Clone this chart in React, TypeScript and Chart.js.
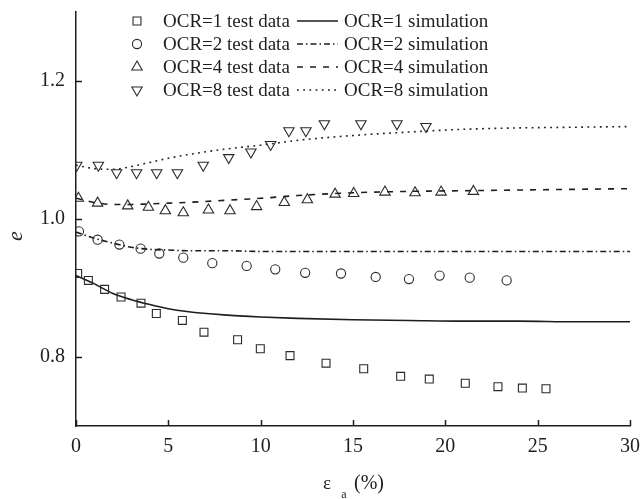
import React, { useEffect, useRef } from "react";
import { Chart, registerables } from "chart.js";
import { drawPoint } from "chart.js/helpers";

Chart.register(...registerables);

// ---- data ----
const ocr1TestX = [0.09, 0.67, 1.55, 2.44, 3.52, 4.35, 5.76, 6.93, 8.75, 9.98, 11.59, 13.54, 15.58, 17.58, 19.13, 21.08, 22.85, 24.17, 25.45];
const ocr1TestY = [0.921, 0.911, 0.898, 0.887, 0.878, 0.863, 0.853, 0.836, 0.825, 0.812, 0.802, 0.791, 0.783, 0.772, 0.768, 0.762, 0.757, 0.755, 0.754];

const ocr2TestX = [0.16, 1.17, 2.35, 3.5, 4.51, 5.81, 7.38, 9.24, 10.79, 12.41, 14.35, 16.23, 18.03, 19.69, 21.32, 23.32];
const ocr2TestY = [0.982, 0.97, 0.963, 0.957, 0.95, 0.944, 0.936, 0.932, 0.927, 0.922, 0.921, 0.916, 0.913, 0.918, 0.915, 0.911];

const ocr4TestX = [0.13, 1.17, 2.8, 3.92, 4.84, 5.81, 7.17, 8.34, 9.78, 11.28, 12.53, 14.03, 15.04, 16.73, 18.36, 19.77, 21.52];
const ocr4TestY = [1.03, 1.023, 1.019, 1.017, 1.012, 1.009, 1.013, 1.012, 1.018, 1.024, 1.028, 1.036, 1.037, 1.039, 1.038, 1.039, 1.04];

const ocr8TestX = [0.04, 1.21, 2.2, 3.28, 4.37, 5.49, 6.89, 8.27, 9.47, 10.54, 11.53, 12.45, 13.45, 15.43, 17.38, 18.95];
const ocr8TestY = [1.078, 1.078, 1.067, 1.067, 1.067, 1.067, 1.078, 1.089, 1.097, 1.108, 1.128, 1.128, 1.138, 1.138, 1.138, 1.134];

const simX = [0, 1, 2, 3, 4, 5, 6, 8, 10, 12, 15, 18, 21, 24, 27, 30];
const ocr1Sim = [0.918, 0.906, 0.892, 0.883, 0.876, 0.870, 0.866, 0.861, 0.858, 0.856, 0.854, 0.853, 0.852, 0.852, 0.851, 0.851];
const ocr2Sim = [0.981, 0.972, 0.965, 0.959, 0.956, 0.955, 0.954, 0.954, 0.953, 0.953, 0.953, 0.953, 0.953, 0.953, 0.953, 0.953];
const ocr4Sim = [1.030, 1.024, 1.021, 1.021, 1.022, 1.023, 1.024, 1.027, 1.030, 1.034, 1.038, 1.040, 1.041, 1.042, 1.043, 1.044];
const ocr8Sim = [1.078, 1.073, 1.072, 1.076, 1.082, 1.088, 1.093, 1.101, 1.107, 1.114, 1.121, 1.126, 1.130, 1.132, 1.133, 1.134];

const xTicks = [0, 5, 10, 15, 20, 25, 30];
const yTicks = [0.8, 1.0, 1.2];

const testLabels = ["OCR=1 test data", "OCR=2 test data", "OCR=4 test data", "OCR=8 test data"];
const simLabels = ["OCR=1 simulation", "OCR=2 simulation", "OCR=4 simulation", "OCR=8 simulation"];
const yTitle = "e";
const xTitleMain = "ε";
const xTitleSub = "a";
const xTitleUnit = "(%)";

const pts = (xs: number[], ys: number[]) => xs.map((x, i) => ({ x, y: ys[i] }));

const INK = "#1e1e1e";
const SERIF = "'Liberation Serif', 'Times New Roman', serif";

export default function App() {
  const ref = useRef<HTMLCanvasElement | null>(null);

  useEffect(() => {
    if (!ref.current) return;

    const testStyle = (style: string, radius: number, rotation = 0) => ({
      showLine: false,
      pointStyle: style,
      pointRadius: radius,
      pointRotation: rotation,
      pointBorderColor: "#2a2a2a",
      pointBackgroundColor: "rgba(0,0,0,0)",
      pointBorderWidth: 1.1,
      borderColor: "#2a2a2a",
    });
    const simStyle = (dash: number[]) => ({
      showLine: true,
      pointRadius: 0,
      borderColor: INK,
      borderWidth: 1.6,
      borderDash: dash,
      cubicInterpolationMode: "monotone" as const,
      fill: false,
    });

    const datasets: any[] = [
      { label: testLabels[0], data: pts(ocr1TestX, ocr1TestY), ...testStyle("rect", 5.6) },
      { label: testLabels[1], data: pts(ocr2TestX, ocr2TestY), ...testStyle("circle", 4.6) },
      { label: testLabels[2], data: pts(ocr4TestX, ocr4TestY), ...testStyle("triangle", 6) },
      { label: testLabels[3], data: pts(ocr8TestX, ocr8TestY), ...testStyle("triangle", 6, 180) },
      { label: simLabels[0], data: pts(simX, ocr1Sim), ...simStyle([]) },
      { label: simLabels[1], data: pts(simX, ocr2Sim), ...simStyle([6, 3, 1.5, 3]) },
      { label: simLabels[2], data: pts(simX, ocr4Sim), ...simStyle([6, 7]) },
      { label: simLabels[3], data: pts(simX, ocr8Sim), ...simStyle([1.8, 4.4]) },
    ];

    const decor = {
      id: "decor",
      afterDraw(chart: any) {
        const { ctx, chartArea } = chart;
        const xs = chart.scales.x;
        const ys = chart.scales.y;
        ctx.save();
        // inward tick marks
        ctx.strokeStyle = INK;
        ctx.lineWidth = 1.5;
        ctx.setLineDash([]);
        xs.ticks.forEach((t: any) => {
          const px = Math.round(xs.getPixelForValue(t.value)) + 0.5;
          ctx.beginPath();
          ctx.moveTo(px, chartArea.bottom);
          ctx.lineTo(px, chartArea.bottom - 6);
          ctx.stroke();
        });
        ys.ticks.forEach((t: any) => {
          const py = Math.round(ys.getPixelForValue(t.value)) + 0.5;
          ctx.beginPath();
          ctx.moveTo(chartArea.left, py);
          ctx.lineTo(chartArea.left + 6, py);
          ctx.stroke();
        });

        // legend
        const rowY0 = 21;
        const rowH = 23;
        const markerX = 137;
        const textX = 163;
        const lineX0 = 297;
        const lineX1 = 338;
        const simTextX = 344;
        ctx.font = `19px ${SERIF}`;
        ctx.fillStyle = INK;
        ctx.textBaseline = "middle";
        ctx.textAlign = "left";
        for (let i = 0; i < 4; i++) {
          const y = rowY0 + i * rowH;
          const td = chart.data.datasets[i];
          ctx.save();
          ctx.strokeStyle = td.pointBorderColor;
          ctx.fillStyle = "rgba(0,0,0,0)";
          ctx.lineWidth = td.pointBorderWidth;
          drawPoint(ctx, { pointStyle: td.pointStyle, radius: td.pointRadius, rotation: td.pointRotation, borderWidth: td.pointBorderWidth }, markerX, y);
          ctx.restore();
          ctx.fillStyle = INK;
          ctx.fillText(td.label, textX, y + 1);

          const sd = chart.data.datasets[4 + i];
          ctx.save();
          ctx.strokeStyle = sd.borderColor;
          ctx.lineWidth = sd.borderWidth;
          ctx.setLineDash(sd.borderDash);
          ctx.beginPath();
          ctx.moveTo(lineX0, y);
          ctx.lineTo(lineX1, y);
          ctx.stroke();
          ctx.restore();
          ctx.fillText(sd.label, simTextX, y + 1);
        }

        // y title (rotated, italic)
        ctx.save();
        ctx.translate(16, 236);
        ctx.rotate(-Math.PI / 2);
        ctx.font = `italic 22px ${SERIF}`;
        ctx.textAlign = "center";
        ctx.textBaseline = "middle";
        ctx.fillText(yTitle, 0, 0);
        ctx.restore();

        // x title: ε_a (%)
        const cx = (chartArea.left + chartArea.right) / 2;
        ctx.textBaseline = "middle";
        ctx.textAlign = "center";
        ctx.font = `19px ${SERIF}`;
        ctx.fillText(xTitleMain, cx - 26, 484);
        ctx.font = `12px ${SERIF}`;
        ctx.fillText(xTitleSub, cx - 9, 495);
        ctx.font = `20px ${SERIF}`;
        ctx.textAlign = "left";
        ctx.fillText(xTitleUnit, cx + 1, 484);
        ctx.restore();
      },
    };

    const chart = new Chart(ref.current, {
      type: "line",
      data: { datasets },
      options: {
        animation: false,
        responsive: false,
        layout: { padding: { top: 12, right: 14, left: 0, bottom: 0 } },
        plugins: { legend: { display: false }, tooltip: { enabled: false } },
        scales: {
          x: {
            type: "linear",
            min: 0,
            max: 30,
            afterFit: (s: any) => { s.height = 73; s.paddingLeft = 0; s.paddingRight = 0; },
            afterBuildTicks: (s: any) => { s.ticks = xTicks.map((v) => ({ value: v })); },
            grid: { display: false, drawTicks: false },
            border: { display: true, color: INK, width: 1.5 },
            ticks: { color: INK, font: { family: SERIF, size: 20 }, padding: 9, maxRotation: 0 },
          },
          y: {
            type: "linear",
            min: 0.7,
            max: 1.3,
            afterFit: (s: any) => { s.width = 76; s.paddingTop = 0; s.paddingBottom = 0; },
            afterBuildTicks: (s: any) => { s.ticks = yTicks.map((v) => ({ value: v })); },
            grid: { display: false, drawTicks: false },
            border: { display: true, color: INK, width: 1.5 },
            ticks: { color: INK, font: { family: SERIF, size: 20 }, padding: 11, callback: (v: any) => Number(v).toFixed(1) },
          },
        },
      } as any,
      plugins: [decor],
    });
    return () => chart.destroy();
  }, []);

  return (
    <div style={{ position: "fixed", left: 0, top: 0, width: 644, height: 499, background: "#fff" }}>
      <canvas ref={ref} width={644} height={499} style={{ display: "block" }} />
    </div>
  );
}
